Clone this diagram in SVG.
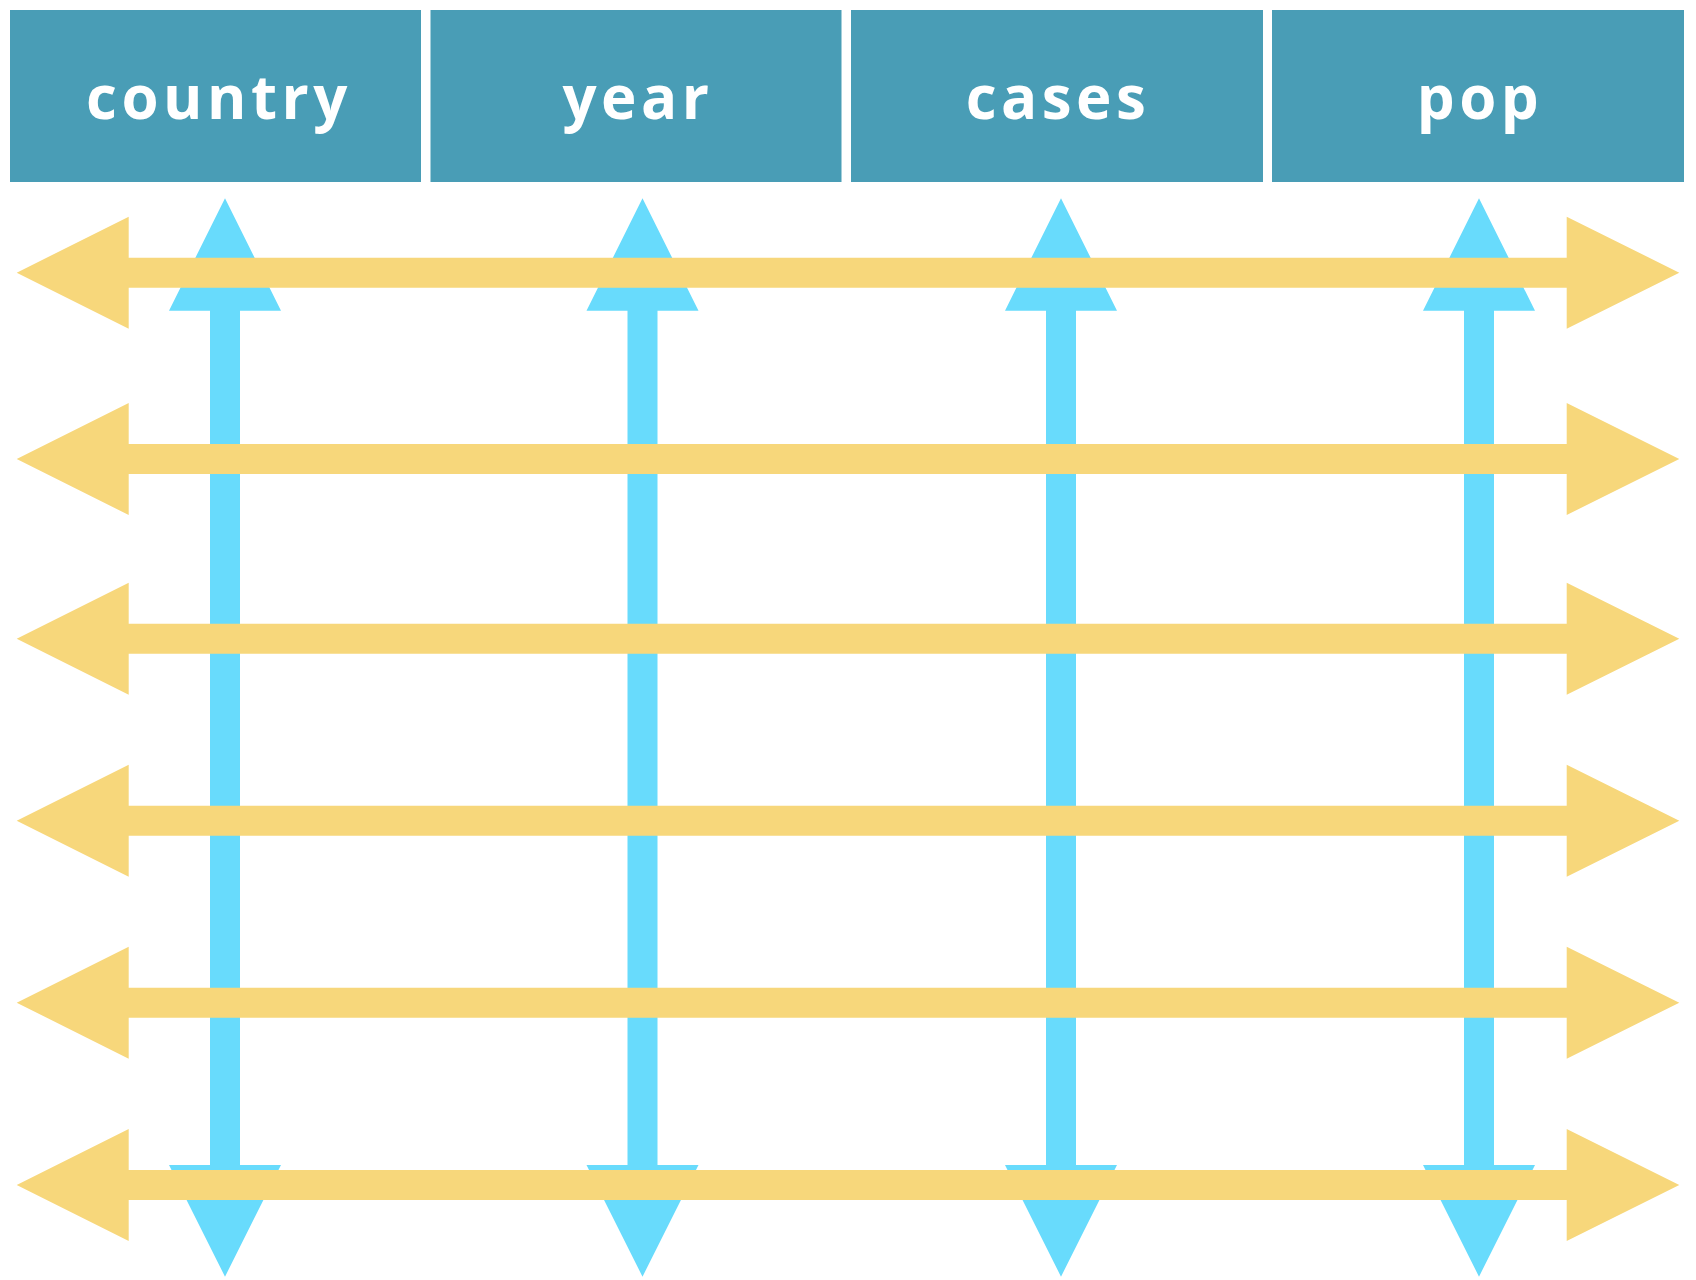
<svg xmlns="http://www.w3.org/2000/svg" xmlns:xlink="http://www.w3.org/1999/xlink" width="1696" height="1280" viewBox="0 0 1696 1280">
<style>
.hdr{fill:#499DB6}
.lbl{fill:#FFFFFF;font-family:"Open Sans","Noto Sans","Liberation Sans",sans-serif;font-weight:700;font-size:60px;letter-spacing:4.5px;text-anchor:middle}
.blue{fill:#68DBFC}
.yellow{fill:#F7D77B}
</style>
<defs>
<polygon id="varrow" class="blue" points="0,198.3 56,310.7 15,310.7 15,1165 56,1165 0,1276.7 -56,1165 -15,1165 -15,310.7 -56,310.7"/>
<polygon id="harrow" class="yellow" points="16.7,0 128.7,-56 128.7,-15 1566.7,-15 1566.7,-56 1679.3,0 1566.7,56 1566.7,15 128.7,15 128.7,56"/>
</defs>
<rect width="1696" height="1280" fill="#FFFFFF"/>
<g id="header-country"><rect class="hdr" x="10" y="10" width="411" height="172"/><text class="lbl" x="219" y="119">country</text></g>
<g id="header-year"><rect class="hdr" x="430.5" y="10" width="411" height="172"/><text class="lbl" x="638" y="119">year</text></g>
<g id="header-cases"><rect class="hdr" x="851" y="10" width="412" height="172"/><text class="lbl" x="1058" y="119">cases</text></g>
<g id="header-pop"><rect class="hdr" x="1272" y="10" width="412" height="172"/><text class="lbl" x="1480" y="119">pop</text></g>
<g id="connectors">
<use xlink:href="#varrow" href="#varrow" transform="translate(225,0)"/>
<use xlink:href="#varrow" href="#varrow" transform="translate(642.5,0)"/>
<use xlink:href="#varrow" href="#varrow" transform="translate(1061,0)"/>
<use xlink:href="#varrow" href="#varrow" transform="translate(1479,0)"/>
<use xlink:href="#harrow" href="#harrow" transform="translate(0,272.7)"/>
<use xlink:href="#harrow" href="#harrow" transform="translate(0,459)"/>
<use xlink:href="#harrow" href="#harrow" transform="translate(0,638.7)"/>
<use xlink:href="#harrow" href="#harrow" transform="translate(0,820.7)"/>
<use xlink:href="#harrow" href="#harrow" transform="translate(0,1002.7)"/>
<use xlink:href="#harrow" href="#harrow" transform="translate(0,1185)"/>
</g>
</svg>
